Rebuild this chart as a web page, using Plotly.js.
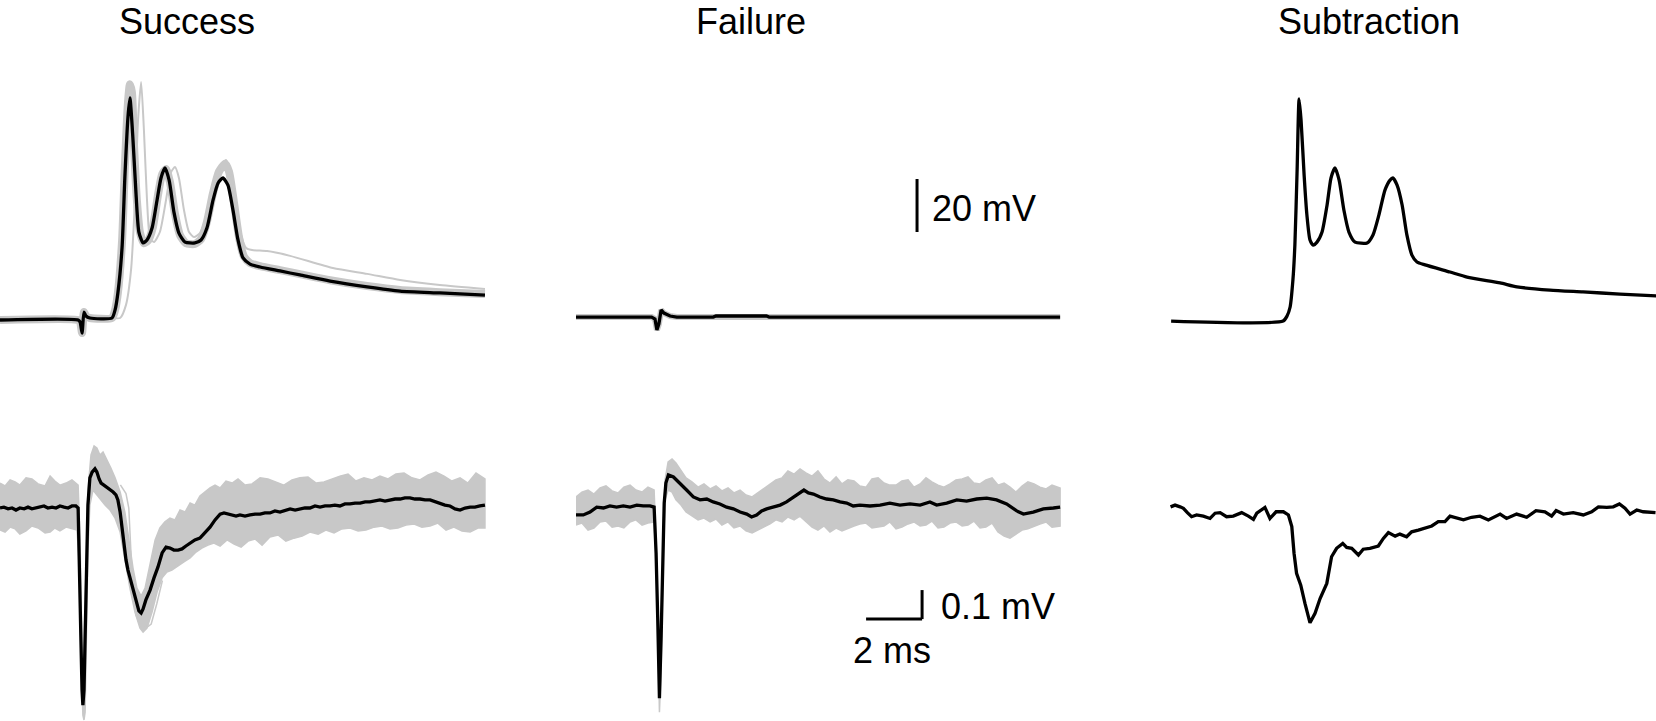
<!DOCTYPE html>
<html>
<head>
<meta charset="utf-8">
<script src="https://cdn.plot.ly/plotly-3.0.1.min.js"></script>
<style>
  html, body { margin: 0; padding: 0; background: #fff; }
  #chart { width: 1656px; height: 721px; }
</style>
</head>
<body>
<div id="chart"></div>
<script>
// ---------- data (time in ms, top row in mV, bottom row in µV) ----------
var panelTitles = ['Success', 'Failure', 'Subtraction'];

// Success, membrane potential: mean trace
var successTopT = [0,2.79,2.86,2.93,3.00,3.07,3.21,4.00,4.11,4.21,
    4.36,4.46,4.57,4.64,4.75,4.86,4.96,5.11,5.25,5.43,
    5.61,5.75,5.89,6.04,6.21,6.39,6.61,6.96,7.18,7.39,
    7.61,7.79,7.96,8.14,8.32,8.50,8.68,8.93,9.29,10.00,
    10.71,11.79,13.11,14.29,15.71,17.32];
var successTopV = [0,0,-0.75,-4.9,3.0,1.5,0.75,0.75,3.8,10.2,
    27.5,54,76.6,83.8,67.9,47.2,33.2,29.1,30.2,34.7,
    45.3,53.6,57.4,52.8,40.8,32.8,29.4,29.1,30.2,34.7,
    45.3,51.7,53.6,50.9,41.5,30.2,23.4,21.1,20.0,18.5,
    17.0,14.7,12.5,10.9,10.2,9.4];
// Success, membrane potential: bundle of single sweeps
var successTopSweepT = [0,2.79,2.86,2.93,3.00,3.07,3.21,4.00,4.11,4.21,
    4.36,4.46,4.57,4.64,4.71,4.79,4.89,5.00,5.14,5.29,
    5.46,5.64,5.79,5.93,6.07,6.25,6.43,6.64,6.96,7.18,
    7.39,7.61,7.82,8.04,8.18,8.36,8.54,8.71,8.93,9.29,
    10.00,10.71,11.79,13.11,14.29,15.71,17.32];
var successTopSweepV = [0,0,-0.75,-4.9,3.0,1.5,0.75,0.75,3.8,10.2,
    30,58,82,89,86,65,45,33,29,30,
    35,47,55,57,52,40,32,29,28.7,30.5,
    37,48,56,59,56,44,31,24,21.5,20.3,
    18.8,17.3,15,12.8,11.3,10.5,9.8];
// Success, membrane potential: delayed sweep
var successTopLateT = [0,2.79,2.86,2.93,3.00,3.07,3.21,4.00,4.29,4.50,
    4.68,4.82,4.93,5.04,5.14,5.25,5.36,5.50,5.71,5.93,
    6.11,6.25,6.39,6.57,6.75,6.93,7.14,7.39,7.64,7.86,
    8.07,8.25,8.43,8.61,8.79,9.00,9.54,10.36,11.89,13.11,
    14.29,15.71,17.32];
var successTopLateV = [0,0,-0.75,-4.9,3.0,1.5,0.75,0.75,0.75,5.7,
    18.9,45.3,75.5,89.8,71.7,45.3,30.9,29.4,33.2,45.3,
    55.8,57.7,53.6,41.5,33.2,31.3,32.8,39.6,49.8,57.4,
    60.4,54.7,43.4,32.1,27.2,26.4,26.0,24.2,19.6,17.4,
    15.1,13.2,11.7];

// Failure, membrane potential
var failureTopT = [0,2.70,2.82,2.89,2.96,3.04,3.14,3.36,3.60,4.90,5.00,6.80,6.90,17.29];
var failureTopV = [1.1,1.1,0.4,-3.8,-1.5,3.8,2.6,1.5,1.1,1.1,1.5,1.5,1.1,1.1];

// Subtraction, membrane potential
var subtractionTopT = [0.04,4.04,4.18,4.29,4.39,4.46,4.54,4.61,4.68,4.79,
    4.89,5.00,5.11,5.25,5.43,5.61,5.75,5.89,6.04,6.21,
    6.39,6.61,7.04,7.25,7.46,7.68,7.86,7.96,8.11,8.29,
    8.46,8.64,8.82,9.11,10.00,10.61,11.79,12.39,13.57,14.75,
    16.07,17.36];
var subtractionTopV = [-0.4,-0.4,1.5,4.9,15.1,28.3,56.6,83.4,75.5,54.7,
    39.6,30.2,28.3,29.4,33.2,43.4,53.6,57.4,52.8,41.5,
    33.2,29.4,29.1,32.1,39.6,49.1,52.8,53.6,50.9,43.4,
    32.1,24.5,21.9,20.8,18.1,16.2,14.0,12.5,11.3,10.6,
    9.8,9.1];

// Success, extracellular: mean trace
var successBotT = [0,0.14,0.29,0.43,0.57,0.71,0.86,1.00,1.14,1.29,
    1.43,1.57,1.71,1.86,2.00,2.14,2.29,2.43,2.57,2.71,
    2.79,2.82,2.86,2.89,2.93,2.96,3.00,3.04,3.07,3.11,
    3.14,3.21,3.29,3.39,3.46,3.54,3.61,3.71,3.82,3.93,
    4.04,4.14,4.21,4.29,4.36,4.43,4.50,4.57,4.68,4.79,
    4.89,4.96,5.04,5.11,5.21,5.36,5.50,5.64,5.79,5.93,
    6.07,6.21,6.36,6.50,6.64,6.79,6.96,7.14,7.32,7.50,
    7.68,7.86,8.00,8.14,8.29,8.43,8.57,8.75,8.93,9.11,
    9.29,9.46,9.64,9.82,10.00,10.18,10.36,10.54,10.71,10.89,
    11.07,11.25,11.43,11.61,11.79,11.96,12.14,12.32,12.50,12.68,
    12.86,13.04,13.21,13.39,13.57,13.75,13.93,14.11,14.29,14.46,
    14.64,14.82,15.00,15.18,15.36,15.54,15.71,15.89,16.07,16.25,
    16.43,16.61,16.79,16.96,17.14,17.32];
var successBotV = [0,3,-3,0,-7,0,-3,3,-3,0,
    3,7,0,3,0,7,3,0,7,7,
    0,-110,-248,-455,-628,-680,-628,-455,-283,-110,
    10,104,124,135,124,100,86,79,72,62,
    55,45,28,-14,-76,-138,-179,-214,-255,-300,
    -335,-355,-362,-348,-317,-283,-241,-204,-155,-135,
    -138,-145,-145,-141,-131,-121,-110,-104,-86,-66,
    -41,-21,-17,-21,-24,-28,-24,-28,-24,-21,
    -21,-17,-17,-10,-14,-7,-3,-7,-3,0,
    0,7,3,7,7,10,7,14,14,17,
    17,21,21,24,28,24,28,31,31,35,
    35,31,31,28,28,21,14,10,7,-3,
    -7,0,3,3,7,10];
// Success, extracellular: envelope of single sweeps
var successBandUpT = [0,0.18,0.36,0.54,0.71,0.93,1.14,1.36,1.61,1.79,
    1.96,2.14,2.36,2.57,2.79,2.86,2.93,2.96,3.00,3.07,
    3.14,3.25,3.36,3.46,3.57,3.68,3.82,3.96,4.11,4.29,
    4.46,4.61,4.75,4.89,5.04,5.18,5.36,5.54,5.71,5.89,
    6.07,6.25,6.43,6.61,6.79,6.96,7.14,7.32,7.50,7.68,
    7.86,8.07,8.29,8.50,8.75,9.00,9.29,9.57,9.86,10.14,
    10.43,10.71,11.00,11.29,11.57,11.86,12.14,12.43,12.71,13.00,
    13.29,13.57,13.86,14.14,14.43,14.71,15.00,15.29,15.57,15.86,
    16.14,16.43,16.71,17.00,17.32];
var successBandUpV = [86,76,97,90,79,104,100,83,76,110,
    93,79,86,97,79,-110,-524,-628,-490,-179,
    62,183,214,207,183,193,166,138,104,55,
    -14,-110,-207,-276,-304,-276,-197,-110,-69,-48,
    -35,-41,-7,-14,17,10,41,55,69,79,
    69,93,86,100,79,83,104,100,90,79,
    97,104,107,86,90,100,110,117,93,104,
    97,110,100,117,121,104,97,114,124,110,
    93,104,86,121,100];
var successBandLoT = [0,0.18,0.36,0.54,0.71,0.93,1.14,1.36,1.61,1.79,
    1.96,2.14,2.36,2.57,2.75,2.82,2.89,2.96,3.00,3.04,
    3.07,3.11,3.14,3.21,3.32,3.46,3.61,3.75,3.93,4.11,
    4.29,4.46,4.64,4.82,5.00,5.11,5.25,5.43,5.61,5.79,
    5.96,6.14,6.36,6.57,6.79,7.00,7.21,7.43,7.64,7.86,
    8.11,8.36,8.61,8.86,9.11,9.36,9.64,9.93,10.21,10.50,
    10.79,11.07,11.36,11.64,11.93,12.21,12.50,12.79,13.07,13.36,
    13.64,13.93,14.21,14.50,14.79,15.07,15.36,15.64,15.93,16.21,
    16.50,16.79,17.07,17.32];
var successBandLoV = [-76,-83,-66,-72,-90,-79,-62,-69,-86,-83,
    -69,-79,-66,-72,-76,-179,-490,-714,-731,-704,
    -524,-317,-145,10,62,48,28,10,-7,-35,
    -83,-172,-276,-359,-414,-428,-414,-359,-290,-241,
    -221,-214,-200,-186,-172,-152,-138,-128,-121,-131,
    -110,-124,-135,-114,-107,-128,-100,-93,-114,-104,
    -97,-83,-90,-76,-86,-72,-69,-79,-76,-66,
    -62,-72,-69,-59,-55,-66,-62,-52,-76,-66,
    -79,-83,-69,-69];
// Success, extracellular: delayed sweep
var successBotLateT = [4.30,4.50,4.60,4.68,4.75,4.86,5.00,5.20,5.40,5.60,5.80];
var successBotLateV = [80,50,0,-150,-300,-370,-400,-415,-400,-330,-250];

// Failure, extracellular: mean trace
var failureBotT = [0,0.26,0.50,0.74,0.98,1.21,1.45,1.69,1.93,2.17,
    2.40,2.64,2.79,2.86,2.92,2.98,3.04,3.10,3.15,3.21,
    3.30,3.48,3.71,3.95,4.19,4.43,4.67,4.90,5.14,5.38,
    5.62,5.86,6.10,6.27,6.45,6.63,6.81,7.05,7.29,7.52,
    7.76,8.00,8.14,8.30,8.48,8.71,8.95,9.19,9.43,9.67,
    9.90,10.14,10.50,10.86,11.21,11.57,11.93,12.29,12.64,12.88,
    13.24,13.60,13.95,14.31,14.67,15.02,15.38,15.74,15.98,16.33,
    16.69,17.05,17.29];
var failureBotV = [-24,-24,-14,3,0,7,3,7,3,10,
    7,7,3,-155,-386,-656,-445,-155,17,86,
    114,107,86,62,38,28,31,21,14,3,
    -3,-14,-21,-31,-24,-10,-3,3,10,21,
    38,52,62,52,48,38,31,28,21,17,
    7,10,7,10,17,10,14,10,21,10,
    17,28,24,31,34,28,14,-10,-21,-14,
    -3,0,3];
// Failure, extracellular: envelope of single sweeps
var failureBandT = [0,0.21,0.43,0.64,0.86,1.07,1.29,1.50,1.71,1.93,
    2.14,2.36,2.57,2.79,2.86,2.93,2.98,3.04,3.11,3.18,
    3.29,3.43,3.57,3.75,3.93,4.14,4.36,4.57,4.79,5.00,
    5.21,5.43,5.64,5.86,6.07,6.29,6.50,6.71,6.93,7.14,
    7.36,7.57,7.79,8.00,8.21,8.43,8.64,8.86,9.07,9.29,
    9.50,9.71,9.93,10.14,10.36,10.57,10.79,11.00,11.21,11.43,
    11.64,11.86,12.07,12.29,12.50,12.71,12.93,13.14,13.36,13.57,
    13.79,14.00,14.21,14.43,14.64,14.86,15.07,15.29,15.50,15.71,
    15.93,16.14,16.36,16.57,16.79,17.00,17.29];
var failureBandUpV = [38,55,62,48,69,76,59,52,72,79,
    62,55,72,62,-120,-386,-628,-400,-110,97,
    159,169,155,131,104,90,72,83,66,76,
    59,69,52,62,45,38,52,66,83,97,
    104,128,117,135,121,110,128,100,86,107,
    83,97,93,76,72,100,104,86,79,79,
    93,97,72,83,104,90,79,72,83,97,
    100,107,86,83,97,104,79,86,72,55,
    76,90,83,72,66,79,69];
var failureBandLoV = [-59,-52,-76,-69,-48,-45,-66,-62,-69,-48,
    -41,-59,-52,-48,-179,-455,-704,-559,-179,28,
    62,55,28,10,-14,-28,-41,-35,-48,-38,
    -59,-48,-69,-62,-79,-86,-76,-66,-55,-41,
    -48,-31,-41,-28,-45,-66,-76,-62,-83,-69,
    -79,-72,-62,-55,-52,-69,-66,-62,-48,-72,
    -66,-55,-48,-62,-59,-45,-69,-66,-52,-48,
    -62,-59,-45,-69,-66,-52,-83,-97,-104,-90,
    -76,-72,-62,-55,-48,-66,-62];

// Subtraction, extracellular
var subtractionBotT = [0.02,0.18,0.36,0.48,0.62,0.77,0.95,1.19,1.43,1.61,
    1.79,2.02,2.26,2.56,2.80,2.98,3.10,3.39,3.57,3.79,
    4.05,4.23,4.35,4.43,4.52,4.67,4.82,5.00,5.18,5.36,
    5.60,5.77,5.95,6.17,6.31,6.49,6.73,6.90,7.14,7.44,
    7.62,7.80,8.04,8.21,8.45,8.63,8.87,9.11,9.35,9.58,
    9.82,10.00,10.24,10.48,10.77,11.07,11.37,11.79,12.02,12.38,
    12.74,13.07,13.39,13.63,13.79,14.05,14.40,14.76,15.06,15.30,
    15.60,15.83,16.05,16.25,16.43,16.67,16.90,17.14,17.34];
var subtractionBotV = [4,10,4,-1,-16,-30,-24,-28,-36,-18,
    -16,-30,-28,-16,-28,-39,-18,2,-36,-13,
    -13,-24,-64,-156,-225,-266,-329,-396,-363,-312,
    -260,-168,-139,-122,-136,-139,-162,-142,-139,-131,
    -105,-85,-97,-90,-99,-82,-76,-70,-62,-47,
    -47,-28,-36,-41,-32,-28,-41,-21,-36,-21,
    -32,-9,-13,-28,-9,-21,-16,-24,-13,4,
    2,4,14,-1,-21,-7,-13,-16,-16];

// scale bars
var barVoltTop = 20;   // mV
var barVoltBot = 100;  // µV
var barTime = 2;       // ms

// ---------- layout geometry (px) ----------
var W = 1656, H = 721;
var pxPerMs = 28;
var colLeft = [0, 576, 1170];
var colRight = [560, 1100, 1656];
var rowSplit = 400;
var topBase = 320, pxPerMv = 2.65;
var botBase = 508, pxPerUv = 0.29;

var GRAY = '#c8c8c8';
var BLACK = '#000000';
var FONT = 'Liberation Sans, Arial, Helvetica, sans-serif';
var LW = 3.3;

function xAxis(i) {
    return {
        domain: [colLeft[i] / W, colRight[i] / W],
        range: [0, (colRight[i] - colLeft[i]) / pxPerMs],
        visible: false, fixedrange: true
    };
}

function line(x, y, xa, ya, color, width, shape) {
    return {
        x: x, y: y, xaxis: xa, yaxis: ya, type: 'scatter', mode: 'lines',
        line: { color: color, width: width, shape: shape || 'linear', smoothing: 0.6 },
        hoverinfo: 'skip', showlegend: false
    };
}

function band(upT, upV, loT, loV, xa, ya) {
    return {
        x: upT.concat(loT.slice().reverse()),
        y: upV.concat(loV.slice().reverse()),
        xaxis: xa, yaxis: ya, type: 'scatter', mode: 'lines',
        fill: 'toself', fillcolor: GRAY,
        line: { color: GRAY, width: 1.5 },
        hoverinfo: 'skip', showlegend: false
    };
}

var data = [
    // top row
    line(successTopSweepT, successTopSweepV, 'x', 'y', GRAY, 8, 'spline'),
    line(successTopLateT, successTopLateV, 'x', 'y', GRAY, 2, 'spline'),
    line(successTopT, successTopV, 'x', 'y', BLACK, LW, 'spline'),
    line(failureTopT, failureTopV, 'x2', 'y', GRAY, 6),
    line(failureTopT, failureTopV, 'x2', 'y', BLACK, LW),
    line(subtractionTopT, subtractionTopV, 'x3', 'y', BLACK, LW, 'spline'),
    // bottom row
    band(successBandUpT, successBandUpV, successBandLoT, successBandLoV, 'x', 'y2'),
    line(successBotLateT, successBotLateV, 'x', 'y2', GRAY, 1.5),
    line(successBotT, successBotV, 'x', 'y2', BLACK, LW),
    band(failureBandT, failureBandUpV, failureBandT, failureBandLoV, 'x2', 'y2'),
    line(failureBotT, failureBotV, 'x2', 'y2', BLACK, LW),
    line(subtractionBotT, subtractionBotV, 'x3', 'y2', BLACK, LW)
];

// scale bar positions (ms from the Failure column origin, and in each row's units)
var barTopX = 12.18, barTopY0 = 33.2;
var barBotX0 = 10.36, barBotY0 = -383;

var shapes = [
    { type: 'line', xref: 'x2', yref: 'y', x0: barTopX, x1: barTopX,
      y0: barTopY0, y1: barTopY0 + barVoltTop, line: { color: BLACK, width: 3 } },
    { type: 'line', xref: 'x2', yref: 'y2', x0: barBotX0, x1: barBotX0 + barTime,
      y0: barBotY0, y1: barBotY0, line: { color: BLACK, width: 3 } },
    { type: 'line', xref: 'x2', yref: 'y2', x0: barBotX0 + barTime, x1: barBotX0 + barTime,
      y0: barBotY0, y1: barBotY0 + barVoltBot, line: { color: BLACK, width: 3 } }
];

// titles: box pinned to the top edge so nothing is clipped
var titleX = [186.5, 750.5, 1369];
var annotations = panelTitles.map(function (t, i) {
    return {
        text: t, xref: 'paper', yref: 'paper',
        x: titleX[i] / W, y: 1, xanchor: 'center', yanchor: 'top',
        borderpad: 0, showarrow: false,
        font: { family: FONT, size: 36, color: BLACK }
    };
});
annotations.push(
    { text: barVoltTop + ' mV', xref: 'x2', yref: 'y', x: 12.66, y: 42.1,
      xanchor: 'left', yanchor: 'middle', showarrow: false,
      font: { family: FONT, size: 36, color: BLACK } },
    { text: (barVoltBot / 1000) + ' mV', xref: 'x2', yref: 'y2', x: 12.95, y: -340,
      xanchor: 'left', yanchor: 'middle', showarrow: false,
      font: { family: FONT, size: 36, color: BLACK } },
    { text: barTime + ' ms', xref: 'x2', yref: 'y2', x: 11.29, y: -490,
      xanchor: 'center', yanchor: 'middle', showarrow: false,
      font: { family: FONT, size: 36, color: BLACK } }
);

var layout = {
    width: W, height: H,
    margin: { l: 0, r: 0, t: 0, b: 0, pad: 0 },
    paper_bgcolor: '#ffffff', plot_bgcolor: 'rgba(0,0,0,0)',
    showlegend: false,
    xaxis: xAxis(0),
    xaxis2: xAxis(1),
    xaxis3: xAxis(2),
    yaxis: {
        domain: [(H - rowSplit) / H, 1],
        range: [-(rowSplit - topBase) / pxPerMv, topBase / pxPerMv],
        visible: false, fixedrange: true
    },
    yaxis2: {
        domain: [0, (H - rowSplit) / H],
        range: [-(H - botBase) / pxPerUv, (botBase - rowSplit) / pxPerUv],
        visible: false, fixedrange: true
    },
    shapes: shapes,
    annotations: annotations
};

Plotly.newPlot('chart', data, layout, { staticPlot: true, displayModeBar: false });
</script>
</body>
</html>
